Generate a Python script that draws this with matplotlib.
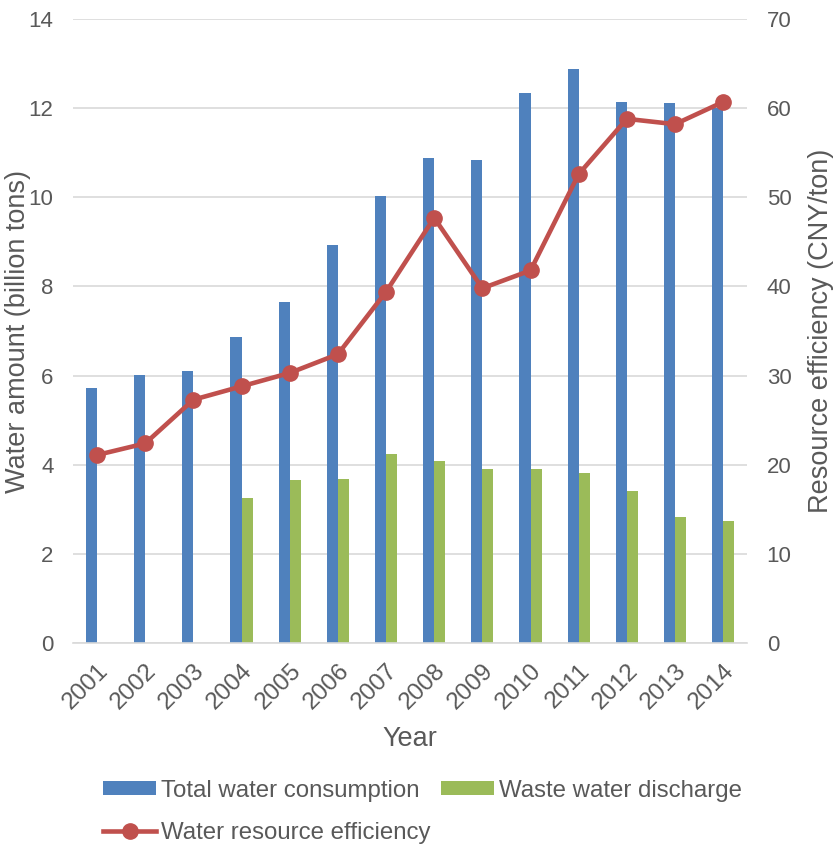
import numpy as np
import matplotlib.pyplot as plt

plt.rcParams['font.family'] = ['Liberation Sans', 'DejaVu Sans']

years = ['2001', '2002', '2003', '2004', '2005', '2006', '2007',
         '2008', '2009', '2010', '2011', '2012', '2013', '2014']
total_consumption = [5.73, 6.02, 6.10, 6.87, 7.66, 8.93, 10.03,
                     10.89, 10.84, 12.34, 12.88, 12.13, 12.11, 12.0]
waste_discharge = [np.nan, np.nan, np.nan, 3.25, 3.66, 3.69, 4.24,
                   4.09, 3.90, 3.91, 3.82, 3.42, 2.84, 2.74]
efficiency = [21.1, 22.4, 27.3, 28.8, 30.3, 32.4, 39.4,
              47.7, 39.8, 41.8, 52.6, 58.8, 58.2, 60.7]

blue = '#4f81bd'
green = '#9bbb59'
red = '#c0504d'
text_color = '#595959'
grid_color = '#d9d9d9'

fig = plt.figure(figsize=(8.34, 8.44), dpi=100)
ax1 = fig.add_axes([0.0875, 0.238, 0.8085, 0.7395])
ax2 = ax1.twinx()

x = np.arange(len(years))
w = 0.23
b1 = ax1.bar(x - w / 2, total_consumption, w, color=blue, label='Total water consumption', zorder=2)
b2 = ax1.bar(x + w / 2, waste_discharge, w, color=green, label='Waste water discharge', zorder=2)
l1, = ax2.plot(x, efficiency, color=red, lw=3.3, marker='o', markersize=11,
               label='Water resource efficiency', zorder=3)

ax1.set_xlim(-0.5, len(years) - 0.5)
ax1.set_ylim(0, 14)
ax1.set_yticks(np.arange(0, 15, 2))
ax2.set_ylim(0, 70)
ax2.set_yticks(np.arange(0, 71, 10))

ax1.grid(axis='y', color=grid_color, lw=1.2, zorder=0)
ax1.set_axisbelow(True)
for ax in (ax1, ax2):
    for s in ax.spines.values():
        s.set_visible(False)
    ax.tick_params(length=0, labelsize=16, colors=text_color, pad=14)
ax1.spines['bottom'].set_visible(True)
ax1.spines['bottom'].set_color(grid_color)
ax1.spines['bottom'].set_linewidth(1.2)

ax1.set_xticks(x)
ax1.set_xticklabels(years, rotation=45, ha='right', rotation_mode='anchor')
ax1.tick_params(axis='x', pad=12, labelsize=17.5)

ax1.set_ylabel('Water amount (billion tons)', fontsize=19.5, color=text_color)
ax1.yaxis.set_label_coords(-0.062, 0.5)
ax2.set_ylabel('Resource efficiency (CNY/ton)', fontsize=19.5, color=text_color)
ax2.yaxis.set_label_coords(1.0905, 0.5)
ax1.set_xlabel('Year', fontsize=19.5, color=text_color)
ax1.xaxis.set_label_coords(0.5, -0.133)

fig.legend(handles=[b1, l1, b2], ncol=2, loc='upper left', bbox_to_anchor=(0.124, 0.076),
           frameon=False, fontsize=17.3, labelcolor=text_color, handlelength=2.2,
           handleheight=0.5, handletextpad=0.2, columnspacing=0.45, labelspacing=0.82,
           borderpad=0, borderaxespad=0)

fig.savefig('out.png', dpi=100)
